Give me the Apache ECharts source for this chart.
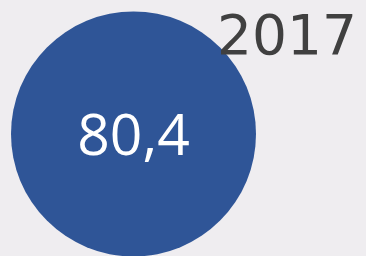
<!DOCTYPE html>
<html>
<head>
<meta charset="utf-8">
<script src="https://cdn.jsdelivr.net/npm/echarts@6/dist/echarts.min.js"></script>
<style>
  html, body { margin: 0; padding: 0; background: #efedf0; }
  #container { width: 366px; height: 256px; }
</style>
</head>
<body>
<div id="container"></div>
<script>
var years = ['2017'];
var values = [80.4];

var dom = document.getElementById('container');
var myChart = echarts.init(dom, null, { renderer: 'canvas' });

var option = {
  backgroundColor: '#efedf0',
  animation: false,
  title: {
    text: years[0],
    right: 4,
    top: 7,
    z: 10,
    textStyle: {
      fontFamily: 'DejaVu Sans',
      fontSize: 55,
      fontWeight: 'normal',
      color: '#404040'
    }
  },
  series: [
    {
      type: 'pie',
      center: [133.5, 134],
      radius: [0, 122.5],
      silent: true,
      z: 1,
      itemStyle: { color: '#2f5597' },
      label: {
        show: true,
        position: 'center',
        fontFamily: 'Open Sans',
        fontSize: 57,
        color: '#ffffff',
        formatter: function (p) {
          return String(p.value).replace('.', ',');
        }
      },
      labelLayout: { dy: 5 },
      labelLine: { show: false },
      data: values.map(function (v) { return { value: v, name: years[0] }; })
    }
  ]
};
myChart.setOption(option);
</script>
</body>
</html>
